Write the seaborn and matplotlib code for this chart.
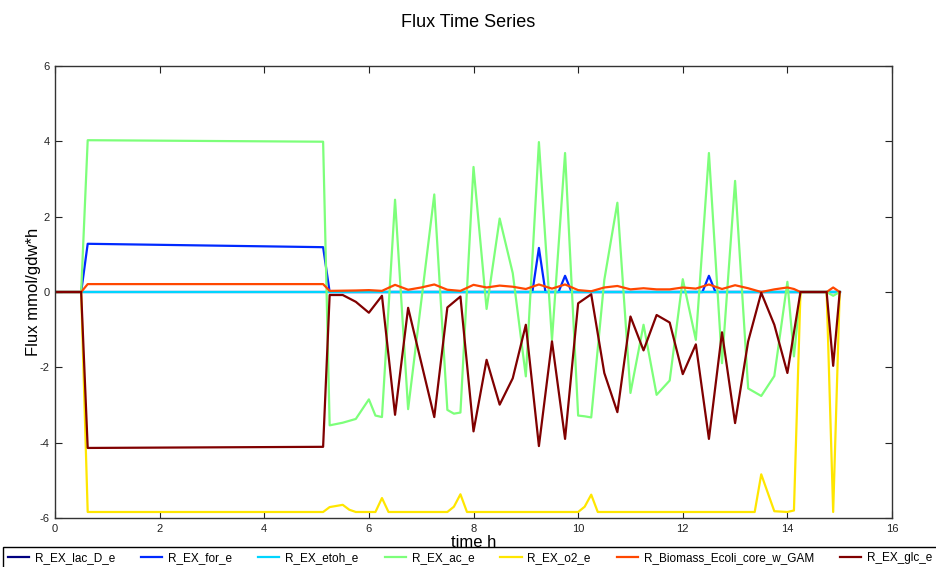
import numpy as np
import pandas as pd
import matplotlib
matplotlib.use("Agg")
import matplotlib.pyplot as plt
import seaborn as sns

# Exchange / biomass fluxes over the simulated culture (time in h, flux in mmol/gdw*h)
reactions = ["R_EX_lac_D_e", "R_EX_for_e", "R_EX_etoh_e", "R_EX_ac_e",
             "R_EX_o2_e", "R_Biomass_Ecoli_core_w_GAM", "R_EX_glc_e"]

t_lac = [0.0, 15.0]
v_lac = [0.0, 0.0]

t_for = [0.0, 0.5, 0.625, 5.125, 5.25, 9.125, 9.25, 9.375, 9.625, 9.75, 9.875,
         12.375, 12.5, 12.625, 15.0]
v_for = [0.0, 0.0, 1.28, 1.19, 0.0, 0.0, 1.17, 0.0, 0.0, 0.43, 0.0,
         0.0, 0.43, 0.0, 0.0]

t_etoh = [0.0, 15.0]
v_etoh = [0.0, 0.0]

t_ac = [0.0, 0.5, 0.625, 5.125, 5.25, 5.5, 5.75, 6.0, 6.125, 6.25, 6.5, 6.75,
        7.25, 7.5, 7.625, 7.75, 8.0, 8.25, 8.5, 8.75, 9.0, 9.25, 9.5, 9.75,
        10.0, 10.125, 10.25, 10.5, 10.75, 11.0, 11.25, 11.5, 11.75, 12.0,
        12.25, 12.5, 12.75, 13.0, 13.25, 13.5, 13.75, 14.0, 14.125, 14.25,
        14.75, 14.875, 15.0]
v_ac = [0.0, 0.0, 4.03, 3.99, -3.54, -3.47, -3.37, -2.85, -3.28, -3.32, 2.45, -3.11,
        2.59, -3.13, -3.23, -3.20, 3.32, -0.45, 1.95, 0.50, -2.24, 3.98, -1.27, 3.69,
        -3.28, -3.30, -3.33, 0.32, 2.37, -2.68, -0.87, -2.73, -2.35, 0.34,
        -1.27, 3.69, -1.89, 2.95, -2.56, -2.76, -2.23, 0.27, -1.71, 0.0,
        0.0, -0.10, 0.0]

t_o2 = [0.0, 0.5, 0.625, 5.125, 5.25, 5.5, 5.625, 5.75, 6.125, 6.25, 6.375,
        7.5, 7.625, 7.75, 7.875, 10.0, 10.125, 10.25, 10.375, 13.375, 13.5,
        13.75, 14.0, 14.125, 14.25, 14.75, 14.875, 15.0]
v_o2 = [0.0, 0.0, -5.84, -5.84, -5.71, -5.65, -5.78, -5.84, -5.84, -5.47, -5.84,
        -5.84, -5.70, -5.37, -5.84, -5.84, -5.70, -5.38, -5.84, -5.84, -4.84,
        -5.82, -5.84, -5.80, 0.0, 0.0, -5.84, 0.0]

t_bio = [0.0, 0.5, 0.625, 5.125, 5.25, 5.5, 5.75, 6.0, 6.25, 6.5, 6.75, 7.0,
         7.25, 7.5, 7.75, 8.0, 8.25, 8.5, 8.75, 9.0, 9.25, 9.5, 9.75, 10.0,
         10.25, 10.5, 10.75, 11.0, 11.25, 11.5, 11.75, 12.0, 12.25, 12.5,
         12.75, 13.0, 13.25, 13.5, 13.75, 14.0, 14.125, 14.25, 14.75, 14.875, 15.0]
v_bio = [0.0, 0.0, 0.21, 0.21, 0.03, 0.035, 0.04, 0.05, 0.03, 0.19, 0.06, 0.12,
         0.20, 0.06, 0.03, 0.19, 0.12, 0.17, 0.14, 0.08, 0.20, 0.09, 0.20, 0.05,
         0.02, 0.12, 0.16, 0.07, 0.10, 0.07, 0.07, 0.12, 0.09, 0.20,
         0.08, 0.18, 0.10, 0.0, 0.07, 0.12, 0.08, 0.0, 0.0, 0.12, 0.0]

t_glc = [0.0, 0.5, 0.625, 5.125, 5.25, 5.5, 5.75, 6.0, 6.25, 6.5, 6.75, 7.25,
         7.5, 7.75, 8.0, 8.25, 8.5, 8.75, 9.0, 9.25, 9.5, 9.75, 10.0, 10.25,
         10.5, 10.75, 11.0, 11.25, 11.5, 11.75, 12.0, 12.25, 12.5, 12.75,
         13.0, 13.25, 13.5, 13.75, 14.0, 14.25, 14.75, 14.875, 15.0]
v_glc = [0.0, 0.0, -4.14, -4.11, -0.08, -0.08, -0.26, -0.55, -0.10, -3.26, -0.42, -3.32,
         -0.41, -0.12, -3.70, -1.80, -2.99, -2.29, -0.87, -4.09, -1.31, -3.90, -0.30, -0.06,
         -2.15, -3.19, -0.65, -1.55, -0.61, -0.81, -2.18, -1.39, -3.90, -1.07,
         -3.48, -1.31, -0.02, -0.87, -2.15, 0.0, 0.0, -1.96, 0.0]

series = [(t_lac, v_lac), (t_for, v_for), (t_etoh, v_etoh), (t_ac, v_ac),
          (t_o2, v_o2), (t_bio, v_bio), (t_glc, v_glc)]

frames = [pd.DataFrame({"time": t, "flux": v, "reaction": name})
          for name, (t, v) in zip(reactions, series)]
df = pd.concat(frames, ignore_index=True)

colors = [matplotlib.colormaps["jet"](x) for x in np.linspace(0, 1, len(reactions))]

plt.rcParams["font.family"] = ["Liberation Sans", "DejaVu Sans"]
plt.rcParams["axes.unicode_minus"] = False
plt.rcParams["xtick.direction"] = "in"
plt.rcParams["ytick.direction"] = "in"
plt.rcParams["xtick.top"] = True
plt.rcParams["ytick.right"] = True

fig = plt.figure(figsize=(9.37, 5.67), dpi=100)
ax = fig.add_axes([0.0587, 0.0864, 0.8933, 0.7972])

sns.lineplot(data=df, x="time", y="flux", hue="reaction", hue_order=reactions,
             palette=colors, estimator=None, sort=False, linewidth=1.6, ax=ax)

ax.set_xlim(0, 16)
ax.set_ylim(-6, 6)
ax.set_xticks(np.arange(0, 17, 2))
ax.set_yticks(np.arange(-6, 7, 2))
ax.tick_params(labelsize=8, length=5, width=0.8, pad=4, colors="#222222")
for sp in ax.spines.values():
    sp.set_color("#333333")
    sp.set_linewidth(1.0)

ax.set_xlabel("time h", fontsize=12, labelpad=1)
ax.set_ylabel("Flux mmol/gdw*h", fontsize=12, labelpad=-1)
fig.suptitle("Flux Time Series", fontsize=13, y=0.975)

handles, labels = ax.get_legend_handles_labels()
ax.legend(handles, labels, ncol=7, loc="upper center", bbox_to_anchor=(0.496, -0.064),
          fontsize=8.5, frameon=True, fancybox=False, edgecolor="black",
          framealpha=1, handlelength=1.8, handletextpad=0.5, columnspacing=2.2,
          borderaxespad=0)

fig.savefig("out.png", dpi=100)
